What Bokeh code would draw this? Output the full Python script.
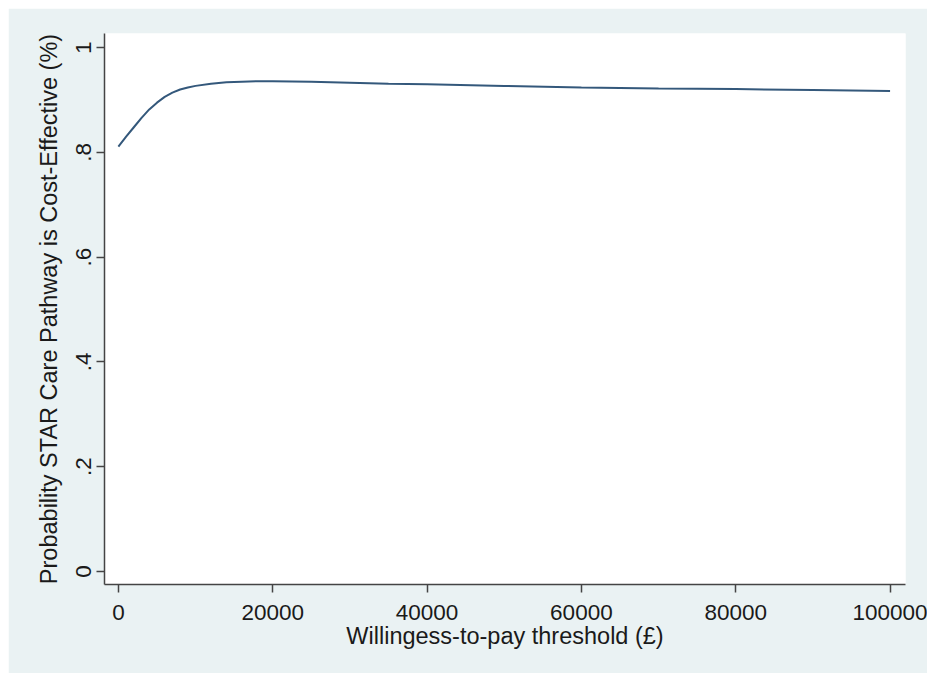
from bokeh.plotting import figure
from bokeh.models import ColumnDataSource, FixedTicker, Range1d
from bokeh.embed import file_html
from bokeh.resources import INLINE

# Data
wtp = [0, 1000, 2000, 3000, 4000, 5000, 6000, 7000, 8000, 9000, 10000,
       12000, 14000, 16000, 18000, 20000, 25000, 30000, 35000, 40000,
       50000, 60000, 70000, 80000, 90000, 100000]
prob = [0.811, 0.830, 0.848, 0.866, 0.882, 0.895, 0.906, 0.914, 0.920, 0.924, 0.927,
        0.931, 0.934, 0.935, 0.936, 0.936, 0.935, 0.933, 0.931, 0.930,
        0.927, 0.924, 0.922, 0.921, 0.919, 0.917]

x_ticks = [0, 20000, 40000, 60000, 80000, 100000]
x_tick_labels = ["0", "20000", "40000", "60000", "80000", "100000"]
y_ticks = [0, 0.2, 0.4, 0.6, 0.8, 1.0]
y_tick_labels = ["0", ".2", ".4", ".6", ".8", "1"]

x_title = "Willingess-to-pay threshold (£)"
y_title = "Probability STAR Care Pathway is Cost-Effective (%)"

source = ColumnDataSource(data=dict(x=wtp, y=prob))

p = figure(width=919, height=665, output_backend="svg", toolbar_location=None,
           x_range=Range1d(-1800, 102000), y_range=Range1d(-0.025, 1.027),
           min_border_left=96, min_border_top=25, min_border_right=22, min_border_bottom=89)
p.margin = (8, 0, 0, 8)

p.line("x", "y", source=source, line_width=2, line_color="#34587B")

p.border_fill_color = "#EAF2F3"
p.background_fill_color = "white"
p.outline_line_color = None
p.xgrid.grid_line_color = None
p.ygrid.grid_line_color = None

p.xaxis.ticker = FixedTicker(ticks=x_ticks)
p.xaxis.major_label_overrides = {t: l for t, l in zip(x_ticks, x_tick_labels)}
p.yaxis.ticker = FixedTicker(ticks=y_ticks)
p.yaxis.major_label_overrides = {t: l for t, l in zip(y_ticks, y_tick_labels)}
p.yaxis.major_label_orientation = "vertical"

for ax in (p.xaxis, p.yaxis):
    ax.axis_line_color = "#444444"
    ax.axis_line_width = 1.5
    ax.major_tick_line_color = "#444444"
    ax.major_tick_line_width = 1.5
    ax.major_tick_in = 0
    ax.major_tick_out = 8
    ax.minor_tick_line_color = None
    ax.major_label_text_font = "Liberation Sans"
    ax.major_label_text_font_size = "22.5px"
    ax.major_label_text_color = "#1a1a1a"
    ax.axis_label_text_font = "Liberation Sans"
    ax.axis_label_text_font_size = "23.5px"
    ax.axis_label_text_font_style = "normal"
    ax.axis_label_text_color = "#1a1a1a"

p.xaxis.major_label_standoff = 12
p.xaxis.axis_label_standoff = 0
p.yaxis.major_label_standoff = 5
p.yaxis.axis_label_standoff = 12

p.xaxis.axis_label = x_title
p.yaxis.axis_label = y_title

open("out.html", "w").write(file_html(p, INLINE))
